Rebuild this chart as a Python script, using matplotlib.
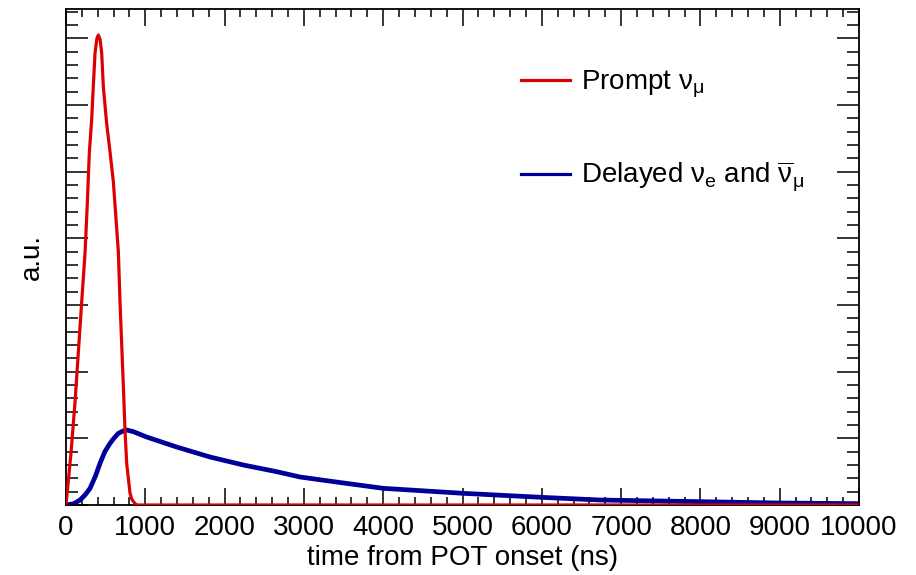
import matplotlib
matplotlib.use("Agg")
import matplotlib.pyplot as plt
from matplotlib.ticker import MultipleLocator, NullFormatter, FixedLocator

plt.rcParams['font.family'] = ['Liberation Sans', 'DejaVu Sans']
plt.rcParams['mathtext.fontset'] = 'custom'
plt.rcParams['mathtext.rm'] = 'Liberation Sans'
plt.rcParams['mathtext.it'] = 'Liberation Sans:italic'
plt.rcParams['mathtext.bf'] = 'Liberation Sans:bold'

# --- data ---
prompt_t = [0, 63, 113, 155, 197, 240, 269, 294, 323, 344, 366, 390, 408, 430, 450, 471,
            513, 555, 597, 618, 660, 681, 731, 744, 765, 786, 807, 828, 870, 900, 10000]
prompt_v = [0, 0.78, 1.53, 2.28, 3.03, 3.78, 4.53, 5.28, 5.77, 6.27, 6.78, 7.0, 7.05, 6.98, 6.78, 6.27,
            5.72, 5.30, 4.85, 4.50, 3.80, 3.05, 1.55, 1.12, 0.63, 0.40, 0.18, 0.09, 0.02, 0.0, 0.0]

delayed_t = [0, 100, 177, 240, 303, 370, 429, 490, 555, 610, 660, 720, 765, 850, 1017, 1395, 1816,
             2236, 2656, 2951, 3500, 4001, 5010, 5998, 6734, 7995, 9000, 10000]
delayed_v = [0, 0.02, 0.075, 0.15, 0.25, 0.43, 0.625, 0.80, 0.925, 1.01, 1.075, 1.11, 1.125, 1.10,
             1.02, 0.87, 0.72, 0.60, 0.50, 0.42, 0.33, 0.25, 0.175, 0.115, 0.075, 0.05, 0.03, 0.02]

labels = [r'Prompt $\mathrm{\nu}_{\mathrm{\mu}}$',
          r'Delayed $\mathrm{\nu}_{\mathrm{e}}$ and $\overline{\mathrm{\nu}}_{\mathrm{\mu}}$']
colors = ['#dd0000', '#000099']
xticks = [0, 1000, 2000, 3000, 4000, 5000, 6000, 7000, 8000, 9000, 10000]

fig = plt.figure(figsize=(9.16, 5.75), dpi=100)
ax = fig.add_axes([66/916, 70/575, (859-66)/916, (505-9)/575])

l1, = ax.plot(prompt_t, prompt_v, color=colors[0], lw=2.3, label=labels[0], zorder=3)
l2, = ax.plot(delayed_t, delayed_v, color=colors[1], lw=3.4, label=labels[1], zorder=2)

ax.set_xlim(0, 10000)
ax.set_ylim(0, 7.44)
ax.xaxis.set_major_locator(FixedLocator(xticks))
ax.set_xticklabels([str(v) for v in xticks])
ax.xaxis.set_minor_locator(MultipleLocator(200))
ax.yaxis.set_major_locator(MultipleLocator(1))
ax.yaxis.set_minor_locator(MultipleLocator(0.2))
ax.yaxis.set_major_formatter(NullFormatter())

ax.tick_params(axis='x', which='major', direction='in', length=12, width=1.1,
               top=True, labelsize=20, pad=7)
ax.tick_params(axis='x', which='minor', direction='in', length=6, width=1.1, top=True)
ax.tick_params(axis='y', which='major', direction='in', length=16, width=1.1, right=True)
ax.tick_params(axis='y', which='minor', direction='in', length=8.5, width=1.1, right=True)
for s in ax.spines.values():
    s.set_linewidth(1.3)

ax.set_xlabel('time from POT onset (ns)', fontsize=20, labelpad=3)
ax.set_ylabel('a.u.', fontsize=20, labelpad=12)

leg = ax.legend(handles=[l1, l2], loc='upper left', bbox_to_anchor=(521/916, 1 - 69/575),
                bbox_transform=fig.transFigure, frameon=False, fontsize=20,
                handlelength=1.75, handletextpad=0.4, labelspacing=2.15, borderpad=0,
                borderaxespad=0)
for h in leg.get_lines():
    h.set_linewidth(2.3)

fig.savefig('out.png', dpi=100)
